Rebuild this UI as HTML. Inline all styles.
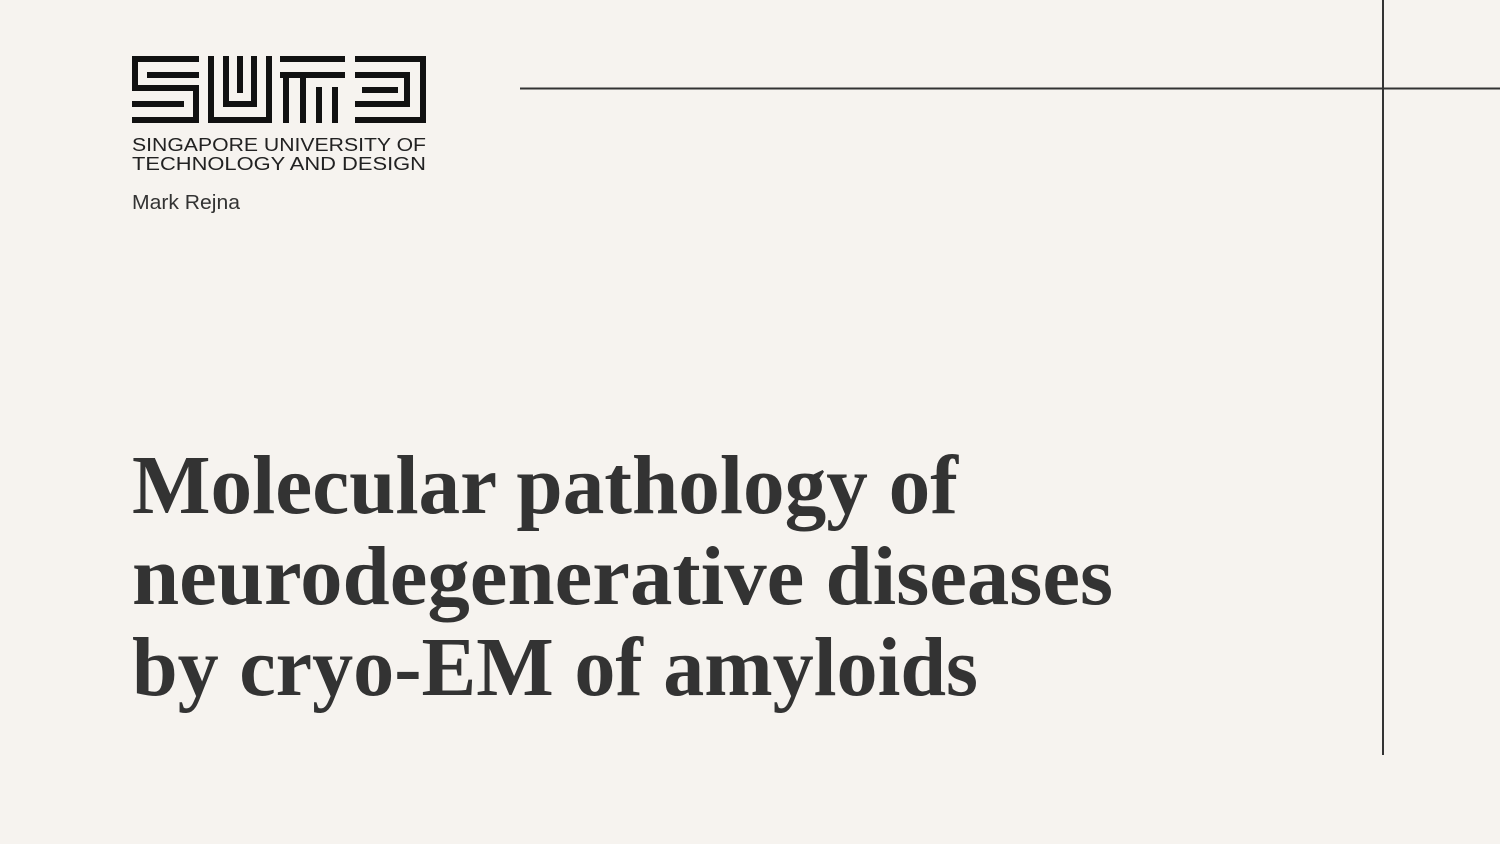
<!DOCTYPE html>
<html><head><meta charset="utf-8"><style>
html,body{margin:0;padding:0;background:#f6f3ef;}
svg{display:block}
</style></head><body>
<svg width="1500" height="844" viewBox="0 0 1500 844">
<rect width="1500" height="844" fill="#f6f3ef"/>
<g fill="#111">
  <rect x="132" y="56" width="67" height="6"/>
  <rect x="132" y="56" width="6" height="35"/>
  <rect x="147" y="72" width="52" height="6"/>
  <rect x="132" y="85" width="67" height="6"/>
  <rect x="193" y="85" width="6" height="38"/>
  <rect x="132" y="101" width="52" height="6"/>
  <rect x="132" y="117" width="67" height="6"/>
  <rect x="208" y="56" width="6" height="67"/>
  <rect x="266" y="56" width="6" height="67"/>
  <rect x="208" y="117" width="64" height="6"/>
  <rect x="223" y="56" width="6" height="51"/>
  <rect x="251" y="56" width="6" height="51"/>
  <rect x="223" y="101" width="34" height="6"/>
  <rect x="237" y="56" width="6" height="37"/>
  <rect x="280" y="56" width="65" height="6"/>
  <rect x="280" y="72" width="65" height="6"/>
  <rect x="283" y="72" width="6" height="51"/>
  <rect x="300" y="72" width="6" height="51"/>
  <rect x="316" y="87" width="6" height="36"/>
  <rect x="332" y="87" width="6" height="36"/>
  <rect x="355" y="56" width="71" height="6"/>
  <rect x="420" y="56" width="6" height="67"/>
  <rect x="355" y="117" width="71" height="6"/>
  <rect x="355" y="72" width="55" height="6"/>
  <rect x="355" y="101" width="55" height="6"/>
  <rect x="404" y="72" width="6" height="35"/>
  <rect x="362" y="87" width="36" height="6"/>
</g>
<g font-family="Liberation Sans, sans-serif" fill="#222" font-size="18">
  <text x="132" y="151" textLength="294" lengthAdjust="spacingAndGlyphs">SINGAPORE UNIVERSITY OF</text>
  <text x="132" y="170" textLength="294" lengthAdjust="spacingAndGlyphs">TECHNOLOGY AND DESIGN</text>
</g>
<text x="132" y="209" font-family="Liberation Sans, sans-serif" font-size="20" fill="#333" textLength="108" lengthAdjust="spacingAndGlyphs">Mark Rejna</text>
<line x1="520" y1="88.5" x2="1500" y2="88.5" stroke="#333" stroke-width="2"/>
<line x1="1383" y1="0" x2="1383" y2="755" stroke="#333" stroke-width="2"/>
<g font-family="Liberation Serif, serif" font-weight="bold" font-size="84" fill="#333">
  <text x="132" y="513" textLength="826" lengthAdjust="spacingAndGlyphs">Molecular pathology of</text>
  <text x="132" y="604" textLength="981" lengthAdjust="spacingAndGlyphs">neurodegenerative diseases</text>
  <text x="132" y="695" textLength="846" lengthAdjust="spacingAndGlyphs">by cryo-EM of amyloids</text>
</g>
</svg>
</body></html>
